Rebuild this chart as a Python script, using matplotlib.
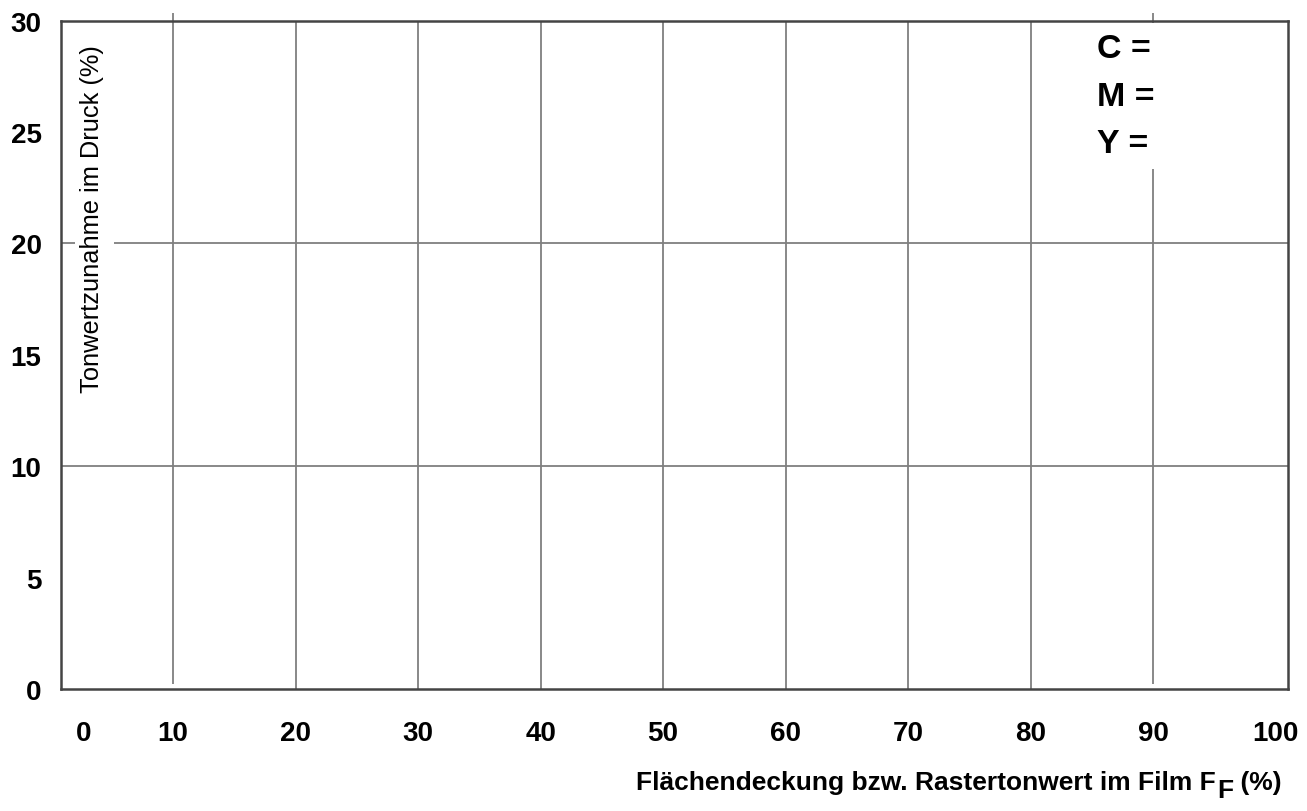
import matplotlib
matplotlib.use("Agg")
import matplotlib.pyplot as plt

plt.rcParams['font.family'] = ['Liberation Sans', 'DejaVu Sans']

# axis values
x_ticks = [10, 20, 30, 40, 50, 60, 70, 80, 90, 100]
x_tick_labels = ['10', '20', '30', '40', '50', '60', '70', '80', '90', '100']
y_ticks = [0, 5, 10, 15, 20, 25, 30]
y_tick_labels = ['0', '5', '10', '15', '20', '25', '30']
x_grid = [10, 20, 30, 40, 50, 60, 70, 80, 90]
y_grid = [10, 20]
inks = ['C =', 'M =', 'Y =']

W, H = 1307, 812
fig = plt.figure(figsize=(W / 100, H / 100), dpi=100)
ax = fig.add_axes([61 / W, 1 - 690 / H, (1288 - 61) / W, (690 - 21.5) / H])
ax.set_xlim(0.86, 101.0)
ax.set_ylim(0, 30)

# grid lines
for gx in x_grid:
    if gx in (10, 90):
        ax.vlines(gx, 0.22, 30.35, color='#7f7f7f', lw=1.3, zorder=1, clip_on=False)
    else:
        ax.vlines(gx, 0, 30, color='#7f7f7f', lw=1.3, zorder=1)
for gy in y_grid:
    if gy == 20:
        # broken where the rotated label crosses it
        ax.hlines([gy, gy], [0.86, 5.2], [2.0, 101.0], color='#7f7f7f', lw=1.3, zorder=1)
    else:
        ax.hlines(gy, 0.86, 101.0, color='#7f7f7f', lw=1.3, zorder=1)

for side in ax.spines.values():
    side.set_color('#444444')
    side.set_linewidth(1.8)
    side.set_zorder(3)

# ticks (the "0" on x sits a bit right of the axis origin in the original)
ax.set_xticks([2.7] + x_ticks, ['0'] + x_tick_labels)
ax.set_yticks(y_ticks, y_tick_labels)
ax.tick_params(length=0)
ax.tick_params(axis='x', pad=22)
ax.tick_params(axis='y', pad=14)
for lab in ax.get_xticklabels() + ax.get_yticklabels():
    lab.set_fontsize(20)
    lab.set_fontweight('bold')

# rotated y label inside the plot
ax.text(3.35, 28.95, 'Tonwertzunahme im Druck (%)', rotation=90, fontsize=18.3,
        ha='center', va='top', zorder=2)

# C / M / Y labels
ax.text(85.4, 29.45, '\n'.join(inks), fontsize=24.5, fontweight='bold',
        ha='left', va='top', linespacing=1.7, zorder=2,
        bbox=dict(facecolor='white', edgecolor='none', pad=7))

# x label with a full-size, lowered subscript F
r = fig.canvas.get_renderer()
base_y = 1 - 790 / H
tail = fig.text(1282 / W, base_y, ' (%)', fontsize=19, fontweight='bold',
                ha='right', va='baseline')
x_left = tail.get_window_extent(r).x0
sub = fig.text(x_left / W, base_y - 8 / H, 'F', fontsize=19, fontweight='bold',
               ha='right', va='baseline')
x_left = sub.get_window_extent(r).x0 - 1
fig.text(x_left / W, base_y, 'Flächendeckung bzw. Rastertonwert im Film F',
         fontsize=19, fontweight='bold', ha='right', va='baseline')

fig.savefig('out.png', dpi=100, facecolor='white')
